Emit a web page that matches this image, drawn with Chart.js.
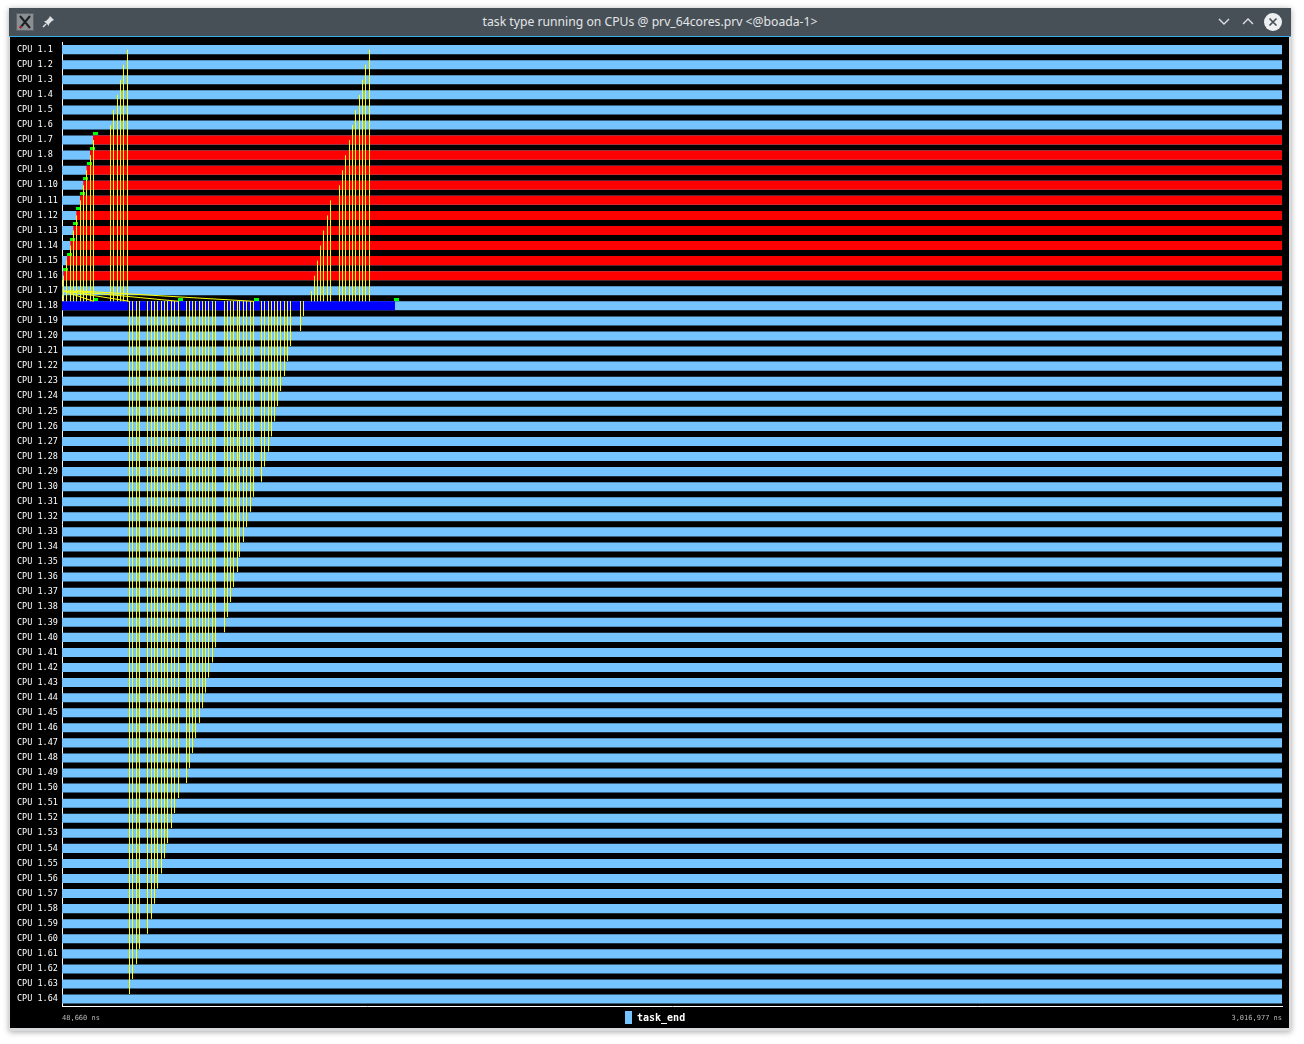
<!DOCTYPE html>
<html>
<head>
<meta charset="utf-8">
<script src="https://cdn.jsdelivr.net/npm/chart.js@4.4.1/dist/chart.umd.min.js"></script>
<style>
  html,body{margin:0;padding:0;background:#ffffff;}
  body{width:1304px;height:1044px;position:relative;overflow:hidden;font-family:"Noto Sans",sans-serif;}
  #win{position:absolute;left:9px;top:8px;width:1282px;height:1023px;background:#d9dadb;box-shadow:0 1px 6px rgba(0,0,0,0.35);}
  #titlebar{position:absolute;left:0;top:0;width:1282px;height:28px;background:#475057;}
  #title{position:absolute;left:0;top:0;width:1282px;height:28px;line-height:28px;text-align:center;color:#e3e5e7;font-size:12.2px;}
  #sep{position:absolute;left:0;top:28px;width:1282px;height:1px;background:#3daee9;}
  #content{position:absolute;left:1px;top:29px;width:1279px;height:991px;background:#000;}
  #c{position:absolute;left:0;top:0;}
  #legend{position:absolute;left:615px;top:973px;height:14px;display:flex;align-items:center;}
  #legend .sw{width:7px;height:13px;background:#75c3ff;margin-right:5px;}
  #legend .lt{color:#fff;font:bold 10px "DejaVu Sans Mono",monospace;}
</style>
</head>
<body>
<div id="win">
  <div id="titlebar">
    <svg style="position:absolute;left:7px;top:5px" width="18" height="18" viewBox="0 0 18 18">
      <rect x="0.5" y="0.5" width="17" height="17" fill="#8a8f94" stroke="#5d6368"/>
      <path d="M4 3 L14 15 M14 3 L4 15" stroke="#1c1f22" stroke-width="2"/>
      <path d="M3 14 L6 14" stroke="#c33" stroke-width="1.5"/>
    </svg>
    <svg style="position:absolute;left:33px;top:6px" width="14" height="14" viewBox="0 0 14 14">
      <path d="M8 2 L12 6 L10 7 L7 10 L7 12 L2 7 L4 7 L7 4 Z" fill="#dfe1e3"/>
      <path d="M4 10 L1 13" stroke="#dfe1e3" stroke-width="1.5"/>
    </svg>
    <div id="title">task type running on CPUs @ prv_64cores.prv &lt;@boada-1&gt;</div>
    <svg style="position:absolute;left:1208px;top:8px" width="14" height="12" viewBox="0 0 14 12">
      <path d="M2 3 L7 8 L12 3" stroke="#dfe1e3" stroke-width="1.4" fill="none"/>
    </svg>
    <svg style="position:absolute;left:1232px;top:8px" width="14" height="12" viewBox="0 0 14 12">
      <path d="M2 8 L7 3 L12 8" stroke="#dfe1e3" stroke-width="1.4" fill="none"/>
    </svg>
    <svg style="position:absolute;left:1254px;top:4px" width="20" height="20" viewBox="0 0 20 20">
      <circle cx="10" cy="10" r="9" fill="#eef0f1"/>
      <path d="M6.5 6.5 L13.5 13.5 M13.5 6.5 L6.5 13.5" stroke="#475057" stroke-width="1.6"/>
    </svg>
  </div>
  <div id="sep"></div>
  <div id="content">
    <canvas id="c" width="1279" height="991"></canvas>
    <div id="legend"><div class="sw"></div><div class="lt">task_end</div></div>
  </div>
</div>
<script>
// ---------- data ----------
const timeStart = 48660;      // ns, left edge
const timeEnd = 3016977;      // ns, right edge
const cpuLabels = ['CPU 1.1','CPU 1.2','CPU 1.3','CPU 1.4','CPU 1.5','CPU 1.6','CPU 1.7','CPU 1.8',
  'CPU 1.9','CPU 1.10','CPU 1.11','CPU 1.12','CPU 1.13','CPU 1.14','CPU 1.15','CPU 1.16',
  'CPU 1.17','CPU 1.18','CPU 1.19','CPU 1.20','CPU 1.21','CPU 1.22','CPU 1.23','CPU 1.24',
  'CPU 1.25','CPU 1.26','CPU 1.27','CPU 1.28','CPU 1.29','CPU 1.30','CPU 1.31','CPU 1.32',
  'CPU 1.33','CPU 1.34','CPU 1.35','CPU 1.36','CPU 1.37','CPU 1.38','CPU 1.39','CPU 1.40',
  'CPU 1.41','CPU 1.42','CPU 1.43','CPU 1.44','CPU 1.45','CPU 1.46','CPU 1.47','CPU 1.48',
  'CPU 1.49','CPU 1.50','CPU 1.51','CPU 1.52','CPU 1.53','CPU 1.54','CPU 1.55','CPU 1.56',
  'CPU 1.57','CPU 1.58','CPU 1.59','CPU 1.60','CPU 1.61','CPU 1.62','CPU 1.63','CPU 1.64'];

// red state (task running) on CPUs 1.7 - 1.16, until end of trace
const redCpus    = [7, 8, 9, 10, 11, 12, 13, 14, 15, 16];
const redStartNs = [124100, 116800, 108300, 100500, 92500, 83500, 76200, 68900, 60800, 51800];
// blue state on CPU 1.18
const blueCpus    = [18];
const blueStartNs = [48660];
const blueEndNs   = [858800];

// communications from CPU 1.18 upward (send time ns, destination CPU)
const upSendNs = [124100, 116800, 108300, 100500, 92500, 83500, 76200, 68900, 60800, 51800,
  166200, 174000, 182500, 190500, 199000, 207500,
  654500, 661800, 669800, 678100, 686100, 694100, 701400, 723300, 730600, 737900, 747700,
  755000, 763200, 772000, 779300, 786600, 796300];
const upTargetCpu = [7, 8, 9, 10, 11, 12, 13, 14, 15, 16,
  6, 5, 4, 3, 2, 1,
  17, 16, 15, 14, 13, 12, 11, 10, 9, 8, 7,
  6, 5, 4, 3, 2, 1];

// communications from CPU 1.18 downward
const downSendNs = [213400, 221400, 229900, 237700, 257400, 266400, 273700, 281500, 290700, 298500,
  306100, 314300, 323100, 331400, 350400, 358900, 366700, 374000, 382000, 390500,
  398500, 406300, 414800, 422900, 444800, 452100, 459400, 467100, 475700, 481700,
  489800, 498000, 506100, 514100, 533600, 541800, 549900, 557200, 565200, 572500,
  580800, 588800, 596800, 605100, 628400, 637400];
const downTargetCpu = [64, 63, 62, 61, 60, 59, 58, 57, 56, 55,
  54, 53, 52, 51, 50, 49, 48, 47, 46, 45,
  44, 43, 42, 41, 40, 39, 38, 37, 36, 35,
  34, 33, 32, 31, 30, 29, 28, 27, 26, 25,
  24, 23, 22, 21, 20, 19];

// slanted communications CPU 1.17 -> CPU 1.18
const slantFromNs = [48660, 51100, 63260, 82720];
const slantToNs   = [124100, 214100, 330900, 515800];

// event flags
const flagNs  = [124100, 116800, 108300, 100500, 92500, 83500, 76200, 68900, 60800, 51800,
  124100, 330900, 515800, 856400];
const flagCpu = [7, 8, 9, 10, 11, 12, 13, 14, 15, 16, 18, 18, 18, 18];

// ---------- build datasets ----------
const baseBars = cpuLabels.map(() => [timeStart, timeEnd]);
const redBars = cpuLabels.map(() => null);
redCpus.forEach((c, i) => { redBars[c - 1] = [redStartNs[i], timeEnd]; });
const blueBars = cpuLabels.map(() => null);
blueCpus.forEach((c, i) => { blueBars[c - 1] = [blueStartNs[i], blueEndNs[i]]; });

const SRC = 18;
const commPts = [];
upSendNs.forEach((t, i) => {
  commPts.push({x: t, y: SRC - 1 - 0.3});
  commPts.push({x: t, y: upTargetCpu[i] - 1});
  commPts.push({x: null, y: null});
});
downSendNs.forEach((t, i) => {
  commPts.push({x: t, y: SRC - 1 - 0.3});
  commPts.push({x: t, y: downTargetCpu[i] - 1 - 0.35});
  commPts.push({x: null, y: null});
});
slantFromNs.forEach((t, i) => {
  commPts.push({x: t, y: 16});
  commPts.push({x: slantToNs[i], y: SRC - 1 - 0.3});
  commPts.push({x: null, y: null});
});

const flagPts = flagNs.map((t, i) => ({x: t, y: flagCpu[i] - 1}));
const flagImg = document.createElement('canvas');
flagImg.width = 10; flagImg.height = 16;
(function(){ const g = flagImg.getContext('2d'); g.fillStyle = '#00ff00'; g.fillRect(5, 0, 5, 3); })();

const LIGHT = '#75c3ff';

// snap line/flag points to device pixels so 1px lines stay crisp (like the original renderer)
const pixelSnap = {
  id: 'pixelSnap',
  afterDatasetsUpdate(chart) {
    chart.data.datasets.forEach((ds, i) => {
      if (ds.type !== 'line' && ds.type !== 'scatter') return;
      const meta = chart.getDatasetMeta(i);
      meta.data.forEach((el) => {
        if (isNaN(el.x) || isNaN(el.y)) return;
        if (ds.type === 'line') { el.x = Math.round(el.x - 0.5) + 0.5; }
        else { el.x = Math.round(el.x); el.y = Math.round(el.y); }
      });
    });
  }
};

new Chart(document.getElementById('c'), {
  type: 'bar',
  plugins: [pixelSnap],
  data: {
    labels: cpuLabels,
    datasets: [
      {type: 'line', label: 'comms', data: commPts, indexAxis: 'x', xAxisID: 'x', yAxisID: 'y2',
       borderColor: '#ffff00', borderWidth: 1, pointRadius: 0, spanGaps: false, tension: 0,
       fill: false, order: 0},
      {type: 'scatter', label: 'flags', data: flagPts, indexAxis: 'x', xAxisID: 'x', yAxisID: 'y2',
       pointStyle: flagImg, pointRadius: 1, showLine: false, order: 1},
      {label: 'running', data: redBars, backgroundColor: '#ff0000', xAxisID: 'x', yAxisID: 'y', order: 2},
      {label: 'blue', data: blueBars, backgroundColor: '#0000ff', xAxisID: 'x', yAxisID: 'y', order: 2},
      {label: 'task_end', data: baseBars, backgroundColor: LIGHT, xAxisID: 'x', yAxisID: 'y', order: 3}
    ]
  },
  options: {
    indexAxis: 'y',
    responsive: false,
    animation: false,
    events: [],
    layout: {padding: {left: 7, right: 7, top: 0.4, bottom: 0}},
    datasets: {bar: {grouped: false, barPercentage: 0.6, categoryPercentage: 1.0, borderWidth: 0}},
    plugins: {legend: {display: false}, tooltip: {enabled: false}},
    scales: {
      x: {
        type: 'linear', position: 'bottom', min: timeStart, max: timeEnd, offset: false,
        grid: {display: false, drawTicks: false},
        border: {display: true, color: '#ffffff', width: 1},
        afterFit: (s) => { s.height = 21.4; },
        afterBuildTicks: (s) => { s.ticks = [{value: timeStart}, {value: timeEnd}]; },
        ticks: {
          align: 'inner', maxRotation: 0, autoSkip: false, padding: 7,
          color: '#b8b8b8', font: {family: 'DejaVu Sans Mono', size: 7},
          callback: (v) => Number(v).toLocaleString('en-US') + ' ns'
        }
      },
      y: {
        type: 'category', position: 'left', offset: true,
        grid: {display: false, drawTicks: false},
        border: {display: true, color: '#ffffff', width: 1},
        afterFit: (s) => { s.width = 45; },
        ticks: {autoSkip: false, crossAlign: 'far', padding: 0, color: '#ffffff',
                font: {family: 'DejaVu Sans Mono', size: 8.5}}
      },
      y2: {
        type: 'linear', display: false, offset: false, grace: 0, beginAtZero: false,
        min: -0.5, max: 63.5, reverse: true
      }
    }
  }
});
</script>
</body>
</html>
